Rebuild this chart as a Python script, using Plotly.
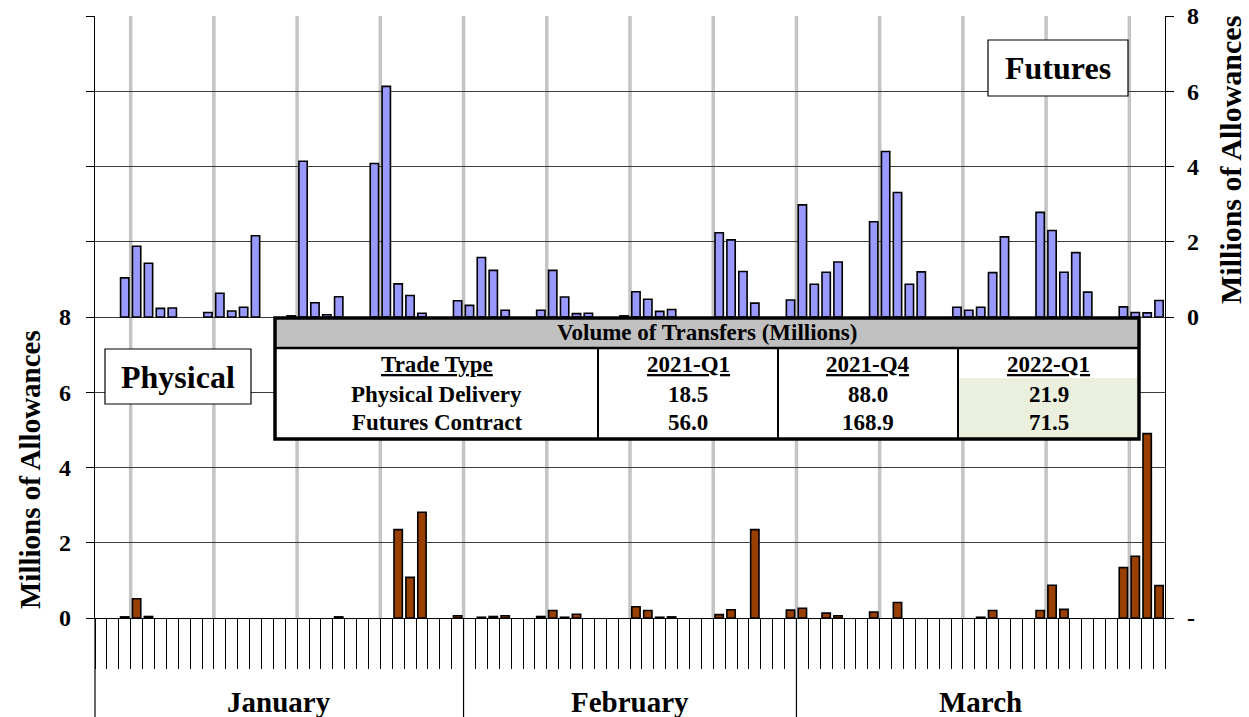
import plotly.graph_objects as go
import pandas as pd

# ---------------- data ----------------
days = [d.strftime("%Y-%m-%d") for d in pd.date_range("2022-01-01", "2022-03-31")]
months = ["January", "February", "March"]

N = None
futures = [
    # January
    N, N, 1.04, 1.88, 1.43, 0.23, 0.24, N, N, 0.12, 0.63, 0.16, 0.26, 2.16, N, N,
    0.03, 4.14, 0.38, 0.06, 0.54, N, N, 4.08, 6.13, 0.88, 0.57, 0.10, N, N, 0.43,
    # February
    0.31, 1.58, 1.24, 0.18, N, N, 0.18, 1.24, 0.53, 0.09, 0.10, N, N, 0.03, 0.67,
    0.47, 0.15, 0.20, N, N, N, 2.24, 2.05, 1.21, 0.37, N, N, 0.45,
    # March
    2.98, 0.87, 1.19, 1.46, N, N, 2.53, 4.40, 3.31, 0.87, 1.20, N, N, 0.26, 0.18,
    0.26, 1.18, 2.13, N, N, 2.78, 2.30, 1.19, 1.71, 0.66, N, N, 0.27, 0.12, 0.11, 0.44,
]
physical = [
    # January
    N, N, 0.03, 0.51, 0.04, N, N, N, N, N, N, N, N, N, N, N,
    N, N, N, N, 0.03, N, N, N, N, 2.35, 1.08, 2.81, N, N, 0.06,
    # February
    N, 0.02, 0.04, 0.06, N, N, 0.04, 0.20, 0.02, 0.10, N, N, N, N, 0.30,
    0.20, 0.02, 0.03, N, N, N, 0.09, 0.22, N, 2.35, N, N, 0.21,
    # March
    0.26, N, 0.13, 0.06, N, N, 0.16, N, 0.41, N, N, N, N, N, N,
    0.02, 0.20, N, N, N, 0.20, 0.87, 0.23, N, N, N, N, 1.34, 1.64, 4.90, 0.86,
]

left_ticks = [0, 2, 4, 6, 8]
right_ticks = [0, 2, 4, 6, 8]

table_title = "Volume of Transfers (Millions)"
table_header = ["Trade Type", "2021-Q1", "2021-Q4", "2022-Q1"]
table_rows = ["Physical Delivery", "Futures Contract"]
physical_delivery = [18.5, 88.0, 21.9]
futures_contract = [56.0, 168.9, 71.5]

# ---------------- layout geometry (page pixels) ----------------
W, H = 1249, 717
L, R, T, B = 95, 84, 16, 99  # plot area edges in page pixels
PW = W - L - R
PH = H - T - B
FONT = "Liberation Serif, Times New Roman, serif"


def px_x(px):
    return (px - L) / PW


def px_y(py):
    return (H - B - py) / PH


dates = pd.to_datetime(days)
idx = list(range(len(days)))
n = len(days)

fig = go.Figure()
fig.add_trace(go.Bar(
    x=idx, y=physical, yaxis="y", width=0.7, name="Physical",
    marker=dict(color="#993F00", line=dict(color="black", width=1.6)),
    showlegend=False, hoverinfo="y",
))
fig.add_trace(go.Bar(
    x=idx, y=futures, yaxis="y2", width=0.7, name="Futures",
    marker=dict(color="#9999FF", line=dict(color="black", width=1.6)),
    showlegend=False, hoverinfo="y",
))

shapes = []
# weekly gray lines (before each Tuesday)
for i, d in enumerate(dates):
    if d.weekday() == 1:
        shapes.append(dict(type="line", xref="x", yref="paper", x0=i - 0.5, x1=i - 0.5,
                           y0=0, y1=1, line=dict(color="#C4C4C4", width=3.5), layer="below"))
# month dividers below the axis
for i, d in enumerate(dates):
    if d.day == 1:
        xp = i / n
        shapes.append(dict(type="line", xref="paper", yref="paper", x0=xp, x1=xp,
                           y0=0, y1=-B / PH, line=dict(color="black", width=1.2)))

annotations = []
# month labels
for m in range(1, 4):
    ids = [i for i, d in enumerate(dates) if d.month == m]
    c = (ids[0] + ids[-1]) / 2
    annotations.append(dict(text=months[m - 1], x=c, xref="x", y=px_y(702), yref="paper",
                            showarrow=False, font=dict(family=FONT, size=29, color="black", weight="bold"),
                            xanchor="center", yanchor="middle"))

# axis titles
annotations.append(dict(text="Millions of Allowances", x=px_x(30), y=px_y(470), xref="paper", yref="paper",
                        textangle=-90, showarrow=False, xanchor="center", yanchor="middle",
                        font=dict(family=FONT, size=29, color="black", weight="bold")))
annotations.append(dict(text="Millions of Allowances", x=px_x(1230), y=px_y(160), xref="paper", yref="paper",
                        textangle=-90, showarrow=False, xanchor="center", yanchor="middle",
                        font=dict(family=FONT, size=30, color="black", weight="bold")))


def box(x0, x1, y0, y1, text, size):
    shapes.append(dict(type="rect", xref="paper", yref="paper",
                       x0=px_x(x0), x1=px_x(x1), y0=px_y(y1), y1=px_y(y0),
                       fillcolor="white", line=dict(color="black", width=1.2), layer="above"))
    annotations.append(dict(text=text, x=px_x((x0 + x1) / 2), y=px_y((y0 + y1) / 2),
                            xref="paper", yref="paper", showarrow=False,
                            xanchor="center", yanchor="middle",
                            font=dict(family=FONT, size=size, color="black", weight="bold")))


box(988, 1128, 40, 96, "Futures", 32)
box(105, 251, 349, 404, "Physical", 32)

# ---- table ----
tx0, tx1, ty0, tsep, ty1 = 275, 1139, 318, 348, 439
cols = [275, 598, 778, 958, 1139]
row_y = [364, 394, 422]


def rect(x0, x1, y0, y1, fill, lw=0, lc="black"):
    shapes.append(dict(type="rect", xref="paper", yref="paper",
                       x0=px_x(x0), x1=px_x(x1), y0=px_y(y1), y1=px_y(y0),
                       fillcolor=fill, line=dict(color=lc, width=lw), layer="above"))


def hline(x0, x1, y, w):
    shapes.append(dict(type="line", xref="paper", yref="paper", x0=px_x(x0), x1=px_x(x1),
                       y0=px_y(y), y1=px_y(y), line=dict(color="black", width=w), layer="above"))


def vline(x, y0, y1, w):
    shapes.append(dict(type="line", xref="paper", yref="paper", x0=px_x(x), x1=px_x(x),
                       y0=px_y(y0), y1=px_y(y1), line=dict(color="black", width=w), layer="above"))


rect(tx0, tx1, ty0, ty1, "white")
rect(tx0, tx1, ty0, tsep, "#C0C0C0")
rect(cols[3], cols[4], 378, ty1, "#EBF0DE")
hline(tx0, tx1, tsep, 2.5)
for cx in cols[1:4]:
    vline(cx, tsep, ty1, 2)
rect(tx0, tx1, ty0, ty1, "rgba(0,0,0,0)", lw=3.5)

tfont = dict(family=FONT, size=23, color="black", weight="bold")


def ttext(text, cx, cy):
    annotations.append(dict(text=text, x=px_x(cx), y=px_y(cy), xref="paper", yref="paper",
                            showarrow=False, font=tfont, xanchor="center", yanchor="middle"))


ttext(table_title, (tx0 + tx1) / 2, 333)
centers = [(cols[k] + cols[k + 1]) / 2 for k in range(4)]
for k, h in enumerate(table_header):
    ttext("<u>" + h + "</u>", centers[k], row_y[0])
ttext(table_rows[0], centers[0], row_y[1])
ttext(table_rows[1], centers[0], row_y[2])
for k in range(3):
    ttext(f"{physical_delivery[k]:.1f}", centers[k + 1], row_y[1])
    ttext(f"{futures_contract[k]:.1f}", centers[k + 1], row_y[2])

boundaries = [i - 0.5 for i in range(n + 1)]
tickfont = dict(family=FONT, size=24, color="black", weight="bold")

fig.update_layout(
    width=W, height=H,
    margin=dict(l=L, r=R, t=T, b=B, pad=0, autoexpand=False),
    paper_bgcolor="white", plot_bgcolor="white",
    barmode="overlay",
    showlegend=False,
    xaxis=dict(range=[-0.5, n - 0.5], tickmode="array", tickvals=boundaries,
               ticks="outside", ticklen=50, tickwidth=1, tickcolor="black",
               showticklabels=False, showgrid=False, zeroline=False, automargin=False,
               showline=True, linecolor="black", linewidth=1.2),
    xaxis2=dict(range=[-0.5, n - 0.5], overlaying="x", anchor="y", side="bottom",
                tickmode="array", tickvals=boundaries, ticks="outside", ticklen=7,
                tickwidth=2.5, tickcolor="black", showticklabels=False, automargin=False,
                showgrid=False, zeroline=False, showline=False),
    yaxis=dict(range=[0, 16], tickmode="array",
               tickvals=[0, 2, 4, 6, 8, 10, 12, 14, 16],
               ticktext=[str(v) for v in left_ticks] + ["", "", "", ""],
               ticks="outside", ticklen=8, tickcolor="black", automargin=False,
               showgrid=True, gridcolor="#3C3C3C", gridwidth=1.2,
               zeroline=False, showline=True, linecolor="black", linewidth=1.2,
               tickfont=tickfont, ticklabelstandoff=10),
    yaxis2=dict(range=[-8, 8], overlaying="y", side="right", anchor="x",
                tickmode="array", tickvals=[-8] + right_ticks,
                ticktext=["-"] + [str(v) for v in right_ticks],
                ticks="outside", ticklen=8, tickcolor="black", automargin=False,
                showgrid=False, zeroline=False, showline=True,
                linecolor="black", linewidth=1.2, tickfont=tickfont,
                ticklabelstandoff=8, ticklabeloverflow="allow"),
    shapes=shapes,
    annotations=annotations,
)

fig.write_html(
    "out.html",
    config={"displayModeBar": False},
    post_script="document.body.style.margin='0';document.body.style.overflow='hidden';",
)
